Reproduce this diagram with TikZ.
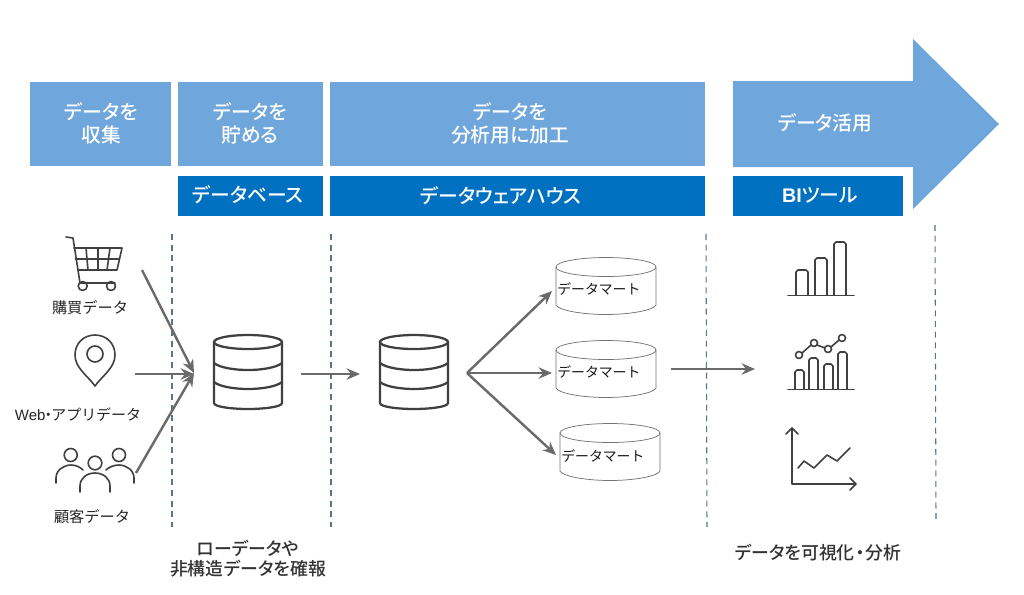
\documentclass[tikz,border=0pt]{standalone}
\usepackage{fontspec}
\setmainfont{Noto Sans CJK JP}
\newfontfamily\latinfont{Liberation Sans}
\newfontfamily\medfont[RawFeature=+palt]{Noto Sans CJK JP Medium}
\newfontfamily\latinbold[BoldFont=Liberation Sans Bold]{Liberation Sans}
\usetikzlibrary{arrows.meta}
\definecolor{lightblue}{HTML}{6FA6DB}
\definecolor{darkblue}{HTML}{0070C0}
\definecolor{arrowgray}{HTML}{6A6A6A}
\definecolor{icongray}{HTML}{404040}
\definecolor{dashgray}{HTML}{5F7383}
\tikzset{
  x=.75pt,y=-.75pt,
  lightbox/.style={fill=lightblue,draw=none},
  darkbox/.style={fill=darkblue,draw=none},
  headlabel/.style={text=white,font=\medfont\fontsize{14.8}{17.2}\selectfont,align=center,inner sep=0pt},
  sublabel/.style={text=white,font=\medfont\fontsize{14.8}{16}\selectfont,inner sep=0pt},
  srclabel/.style={text=black!85,font=\fontsize{11.4}{14}\selectfont,inner sep=0pt},
  martlabel/.style={text=black!90,font=\fontsize{10.4}{13}\selectfont,inner sep=0pt,anchor=west},
  footlabel/.style={text=black!80,font=\medfont\fontsize{13.4}{15}\selectfont,align=center,inner sep=0pt},
  divider/.style={draw=dashgray,line width=.8pt,dash pattern=on 4.5pt off 3.5pt},
  flow/.style={draw=arrowgray,line width=1.8pt,-{Stealth[length=10pt,width=8.5pt]}},
  icon/.style={draw=icongray,line width=1.2pt,line cap=round,line join=round},
  dbicon/.pic={
    \begin{scope}[draw=icongray,line width=1.7pt,line join=round]
      \draw (0,0) ellipse [x radius=34,y radius=7];
      \draw (-34,0) -- (-34,61) .. controls (-34,65) and (-15,67) .. (0,67) .. controls (15,67) and (34,65) .. (34,61) -- (34,0);
      \draw (-34,21) .. controls (-28,26) and (-12,28) .. (0,28) .. controls (12,28) and (28,26) .. (34,21);
      \draw (-34,40) .. controls (-28,45) and (-12,47) .. (0,47) .. controls (12,47) and (28,45) .. (34,40);
    \end{scope}
  },
  martshape/.pic={
    \begin{scope}[draw=black!55,line width=.55pt]
      \draw (0,0) ellipse [x radius=50,y radius=9.5];
      \draw (-50,0) -- (-50,38) .. controls (-48,43) and (-25,47.5) .. (0,47.5) .. controls (25,47.5) and (48,43) .. (50,38) -- (50,0);
    \end{scope}
  }
}
\begin{document}
\begin{tikzpicture}
\useasboundingbox (0,0) rectangle (1024,594);
\fill[white] (0,0) rectangle (1024,594);

% header
\fill[lightbox] (30,82) rectangle (171,166);
\fill[lightbox] (178,82) rectangle (323,166);
\fill[lightbox] (330,82) rectangle (705,166);
\fill[lightbox] (733,81) -- (913,81) -- (913,39) -- (999,124) -- (913,209) -- (913,167) -- (733,167) -- cycle;
\fill[darkbox] (178,176) rectangle (323,216);
\fill[darkbox] (330,176) rectangle (705,216);
\fill[darkbox] (733,176) rectangle (903,216);

\node[headlabel] (collect) at (101,123.5) {データを\\収集};
\node[headlabel] (store) at (250,123.5) {データを\\貯める};
\node[headlabel] (process) at (510,123.5) {データを\\分析用に加工};
\node[headlabel] (use) at (825,123) {データ活用};
\node[sublabel] (dbname) at (248,195) {データベース};
\node[sublabel] (dwhname) at (501,195.5) {データウェアハウス};
\node[sublabel] (biname) at (820,195.5) {{\latinbold\bfseries BI}ツール};

% dividers
\coordinate (d1a) at (172,234); \coordinate (d1b) at (172,527);
\coordinate (d2a) at (331,234); \coordinate (d2b) at (331,527);
\coordinate (d3a) at (706,234); \coordinate (d3b) at (707,527);
\coordinate (d4a) at (935,225); \coordinate (d4b) at (936,520);
\draw[divider] (d1a) -- (d1b);
\draw[divider] (d2a) -- (d2b);
\draw[divider] (d3a) -- (d3b);
\draw[divider] (d4a) -- (d4b);

% cart
\draw[icon] (66,237) -- (73,238) -- (80,283) -- (115,283);
\draw[icon] (74,248) -- (122,248) -- (117,270) -- (78,270);
\draw[icon] (75.5,259) -- (119.5,259);
\draw[icon] (86,248) -- (88,270) (98,248) -- (98,270) (110,248) -- (107,270);
\draw[icon] (82.7,286) circle [radius=4.5] (111,286) circle [radius=4.5];
\node[srclabel] (buy) at (90,308) {購買データ};

% pin
\draw[icon] (95,386) .. controls (88,376) and (75,368) .. (75,355) .. controls (75,343) and (84,335) .. (95,335) .. controls (106,335) and (115,343) .. (115,355) .. controls (115,368) and (102,376) .. (95,386) -- cycle;
\draw[icon] (95,354) circle [radius=8];
\node[srclabel,font=\fontsize{11.2}{14}\selectfont] (web) at (78,415) {{\latinfont Web}\kern-.3em・\kern-.3emアプリデータ};

% people
\draw[icon] (70.7,455) circle [radius=6.5] (95,463) circle [radius=6.8] (119,455) circle [radius=6.5];
\draw[icon] (56,483) -- (56,478) .. controls (56,470) and (64,465) .. (71,465) .. controls (76,465) and (80,467) .. (83,470);
\draw[icon] (80,492) -- (80,486) .. controls (80,478) and (87,473) .. (95,473) .. controls (103,473) and (110,478) .. (110,486) -- (110,492);
\draw[icon] (106,470) .. controls (109,467) and (114,465) .. (119,465) .. controls (126,465) and (134,470) .. (134,478) -- (134,483);
\node[srclabel] (cust) at (92,517) {顧客データ};

% databases
\pic at (248,342) {dbicon};
\pic at (414,342) {dbicon};

% data marts
\pic at (606,267) {martshape};
\pic at (606,350) {martshape};
\pic at (610,433) {martshape};
\node[martlabel] (mart1) at (557,289) {データマート};
\node[martlabel] (mart2) at (557,372) {データマート};
\node[martlabel] (mart3) at (561,456) {データマート};

% connectors
\coordinate (buyout) at (142,270); \coordinate (webout) at (135,374); \coordinate (custout) at (136,473);
\coordinate (dbin) at (194,374); \coordinate (dbinA) at (194,373);
\coordinate (dbout) at (301,374); \coordinate (dwhin) at (360,374);
\coordinate (fan) at (467,373);
\coordinate (m1in) at (552,291); \coordinate (m2in) at (552,373); \coordinate (m3in) at (556,455);
\coordinate (outa) at (671,369); \coordinate (outb) at (755,369);
\draw[flow] (buyout) -- (dbinA);
\draw[flow] (webout) -- (dbin);
\draw[flow] (custout) -- (dbinA);
\draw[flow] (dbout) -- (dwhin);
\draw[flow] (fan) -- (m1in);
\draw[flow] (fan) -- (m2in);
\draw[flow] (fan) -- (m3in);
\draw[flow] (outa) -- (outb);

% bar chart
\draw[icon,line width=1.3pt] (788,295.5) -- (854,295.5);
\draw[icon] (796,295) -- (796,272) -- (798,270) -- (806,270) -- (808,272) -- (808,295);
\draw[icon] (815,295) -- (815,260) -- (817,258) -- (825,258) -- (827,260) -- (827,295);
\draw[icon] (834,295) -- (834,244) -- (836,242) -- (844,242) -- (846,244) -- (846,295);

% combo chart
\draw[icon,line width=1.3pt] (788,389.5) -- (854,389.5);
\draw[icon] (795,389) -- (795,372) -- (797,370) -- (802,370) -- (804,372) -- (804,389);
\draw[icon] (809,389) -- (809,360) -- (811,358) -- (816,358) -- (818,360) -- (818,389);
\draw[icon] (824,389) -- (824,366) -- (826,364) -- (831,364) -- (833,366) -- (833,389);
\draw[icon] (838,389) -- (838,354) -- (840,352) -- (845,352) -- (847,354) -- (847,389);
\draw[icon] (802,353) -- (811,345) (817,345) -- (825,348) (831,347) -- (839,340);
\draw[icon] (799,355) circle [radius=3.5] (814,343) circle [radius=3.5] (828,349) circle [radius=3.5] (842,338) circle [radius=3.5];

% line chart
\draw[icon] (786,434) -- (792,428) -- (798,434) (792,428) -- (792,484) -- (856,484) (850,478) -- (856,484) -- (850,490);
\draw[icon] (798,468) -- (804,461) -- (814,468) -- (827,455) -- (837,461) -- (850,448);

% footers
\node[footlabel] (raw) at (248,559) {ローデータや\\非構造データを確報};
\node[footlabel] (viz) at (818,553) {データを可視化{\kern.05em・\kern.05em}分析};
\end{tikzpicture}
\end{document}
